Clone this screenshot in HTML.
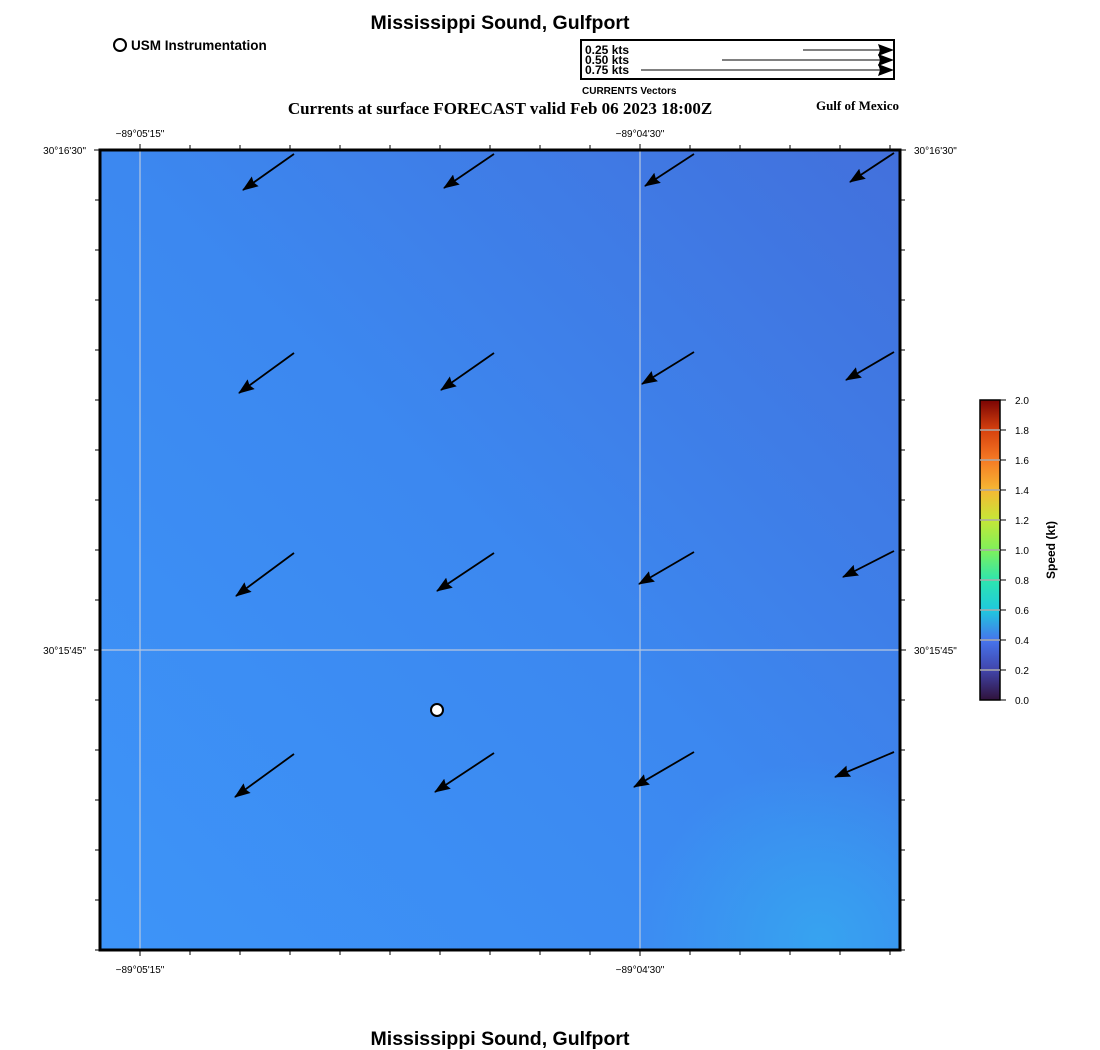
<!DOCTYPE html>
<html><head><meta charset="utf-8"><style>body{margin:0;background:#fff}svg{display:block}</style></head><body>
<svg width="1100" height="1050" xmlns="http://www.w3.org/2000/svg" font-family="Liberation Sans, sans-serif">
<defs>
<linearGradient id="bg" x1="0" y1="1" x2="1" y2="0">
<stop offset="0" stop-color="#3d94f8"/><stop offset="0.5" stop-color="#3c88f0"/><stop offset="1" stop-color="#4270dc"/>
</linearGradient>
<radialGradient id="br" cx="820" cy="940" r="180" gradientUnits="userSpaceOnUse">
<stop offset="0" stop-color="#36a6f0" stop-opacity="0.9"/><stop offset="1" stop-color="#36a6f0" stop-opacity="0"/>
</radialGradient>
<linearGradient id="cb" x1="0" y1="1" x2="0" y2="0">
<stop offset="0" stop-color="#30123b"/><stop offset="0.1" stop-color="#4145ab"/><stop offset="0.2" stop-color="#4675ed"/>
<stop offset="0.3" stop-color="#1fc9dd"/><stop offset="0.4" stop-color="#2ee5ae"/><stop offset="0.5" stop-color="#7ef15a"/>
<stop offset="0.6" stop-color="#c5e737"/><stop offset="0.7" stop-color="#f6b833"/><stop offset="0.8" stop-color="#f67a24"/>
<stop offset="0.9" stop-color="#d6410e"/><stop offset="1" stop-color="#7a0403"/>
</linearGradient>
<marker id="ah" markerWidth="16" markerHeight="12" refX="15" refY="6" orient="auto" markerUnits="userSpaceOnUse"><path d="M0,0 L16,6 L0,12 L2,6Z" fill="#000"/></marker>
</defs>
<text x="500" y="29" text-anchor="middle" font-size="19.5" font-weight="bold">Mississippi Sound, Gulfport</text>
<circle cx="120" cy="45" r="6" fill="#fff" stroke="#000" stroke-width="2"/>
<text x="131" y="50" font-size="13.5" font-weight="bold">USM Instrumentation</text>
<rect x="581" y="40" width="313" height="39" fill="#fff" stroke="#000" stroke-width="2"/>
<g font-size="12" font-weight="bold"><text x="585" y="54">0.25 kts</text><text x="585" y="64">0.50 kts</text><text x="585" y="74">0.75 kts</text></g>
<g stroke="#000" stroke-width="1" marker-end="url(#ah)"><line x1="803" y1="50" x2="893" y2="50"/><line x1="722" y1="60" x2="893" y2="60"/><line x1="641" y1="70" x2="893" y2="70"/></g>
<text x="582" y="94" font-size="10" font-weight="bold">CURRENTS Vectors</text>
<text x="500" y="114" text-anchor="middle" font-size="17" font-weight="bold" font-family="Liberation Serif, serif">Currents at surface FORECAST valid Feb 06 2023 18:00Z</text>
<text x="899" y="110" text-anchor="end" font-size="13" font-weight="bold" font-family="Liberation Serif, serif">Gulf of Mexico</text>
<rect x="100" y="150" width="800" height="800" fill="url(#bg)"/>
<rect x="100" y="150" width="800" height="800" fill="url(#br)"/>
<g stroke="#b8c8e0" stroke-width="1.2"><line x1="140" y1="150" x2="140" y2="950"/><line x1="640" y1="150" x2="640" y2="950"/><line x1="100" y1="650" x2="900" y2="650"/></g>
<g stroke="#000" stroke-width="1">
<path d="M140,150v-6M190,150v-5M240,150v-5M290,150v-5M340,150v-5M390,150v-5M440,150v-5M490,150v-5M540,150v-5M590,150v-5M640,150v-6M690,150v-5M740,150v-5M790,150v-5M840,150v-5M890,150v-5"/>
<path d="M140,950v6M190,950v5M240,950v5M290,950v5M340,950v5M390,950v5M440,950v5M490,950v5M540,950v5M590,950v5M640,950v6M690,950v5M740,950v5M790,950v5M840,950v5M890,950v5"/>
<path d="M100,150h-6M100,200h-5M100,250h-5M100,300h-5M100,350h-5M100,400h-5M100,450h-5M100,500h-5M100,550h-5M100,600h-5M100,650h-6M100,700h-5M100,750h-5M100,800h-5M100,850h-5M100,900h-5M100,950h-5"/>
<path d="M900,150h6M900,200h5M900,250h5M900,300h5M900,350h5M900,400h5M900,450h5M900,500h5M900,550h5M900,600h5M900,650h6M900,700h5M900,750h5M900,800h5M900,850h5M900,900h5M900,950h5"/>
</g>
<rect x="100" y="150" width="800" height="800" fill="none" stroke="#000" stroke-width="3"/>
<g font-size="10">
<text x="140" y="137" text-anchor="middle">−89°05'15"</text><text x="640" y="137" text-anchor="middle">−89°04'30"</text>
<text x="140" y="973" text-anchor="middle">−89°05'15"</text><text x="640" y="973" text-anchor="middle">−89°04'30"</text>
<text x="86" y="154" text-anchor="end">30°16'30"</text><text x="86" y="654" text-anchor="end">30°15'45"</text>
<text x="914" y="154">30°16'30"</text><text x="914" y="654">30°15'45"</text>
</g>
<g stroke="#000" stroke-width="1.8" marker-end="url(#ah)">
<line x1="294" y1="154" x2="243" y2="190"/><line x1="494" y1="154" x2="444" y2="188"/><line x1="694" y1="154" x2="645" y2="186"/><line x1="894" y1="153" x2="850" y2="182"/>
<line x1="294" y1="353" x2="239" y2="393"/><line x1="494" y1="353" x2="441" y2="390"/><line x1="694" y1="352" x2="642" y2="384"/><line x1="894" y1="352" x2="846" y2="380"/>
<line x1="294" y1="553" x2="236" y2="596"/><line x1="494" y1="553" x2="437" y2="591"/><line x1="694" y1="552" x2="639" y2="584"/><line x1="894" y1="551" x2="843" y2="577"/>
<line x1="294" y1="754" x2="235" y2="797"/><line x1="494" y1="753" x2="435" y2="792"/><line x1="694" y1="752" x2="634" y2="787"/><line x1="894" y1="752" x2="835" y2="777"/>
</g>
<circle cx="437" cy="710" r="6" fill="#fff" stroke="#000" stroke-width="2"/>
<rect x="980" y="400" width="20" height="300" fill="url(#cb)" stroke="#000" stroke-width="1.5"/>
<g stroke="#aaa" stroke-width="1.5"><path d="M980,430h20M980,460h20M980,490h20M980,520h20M980,550h20M980,580h20M980,610h20M980,640h20M980,670h20"/></g>
<g stroke="#000"><path d="M1000,400h6M1000,430h6M1000,460h6M1000,490h6M1000,520h6M1000,550h6M1000,580h6M1000,610h6M1000,640h6M1000,670h6M1000,700h6"/></g>
<g font-size="10"><text x="1015" y="404">2.0</text><text x="1015" y="434">1.8</text><text x="1015" y="464">1.6</text><text x="1015" y="494">1.4</text><text x="1015" y="524">1.2</text><text x="1015" y="554">1.0</text><text x="1015" y="584">0.8</text><text x="1015" y="614">0.6</text><text x="1015" y="644">0.4</text><text x="1015" y="674">0.2</text><text x="1015" y="704">0.0</text></g>
<text transform="translate(1055,550) rotate(-90)" text-anchor="middle" font-size="12" font-weight="bold">Speed (kt)</text>
<text x="500" y="1045" text-anchor="middle" font-size="19.5" font-weight="bold">Mississippi Sound, Gulfport</text>
</svg>
</body></html>
